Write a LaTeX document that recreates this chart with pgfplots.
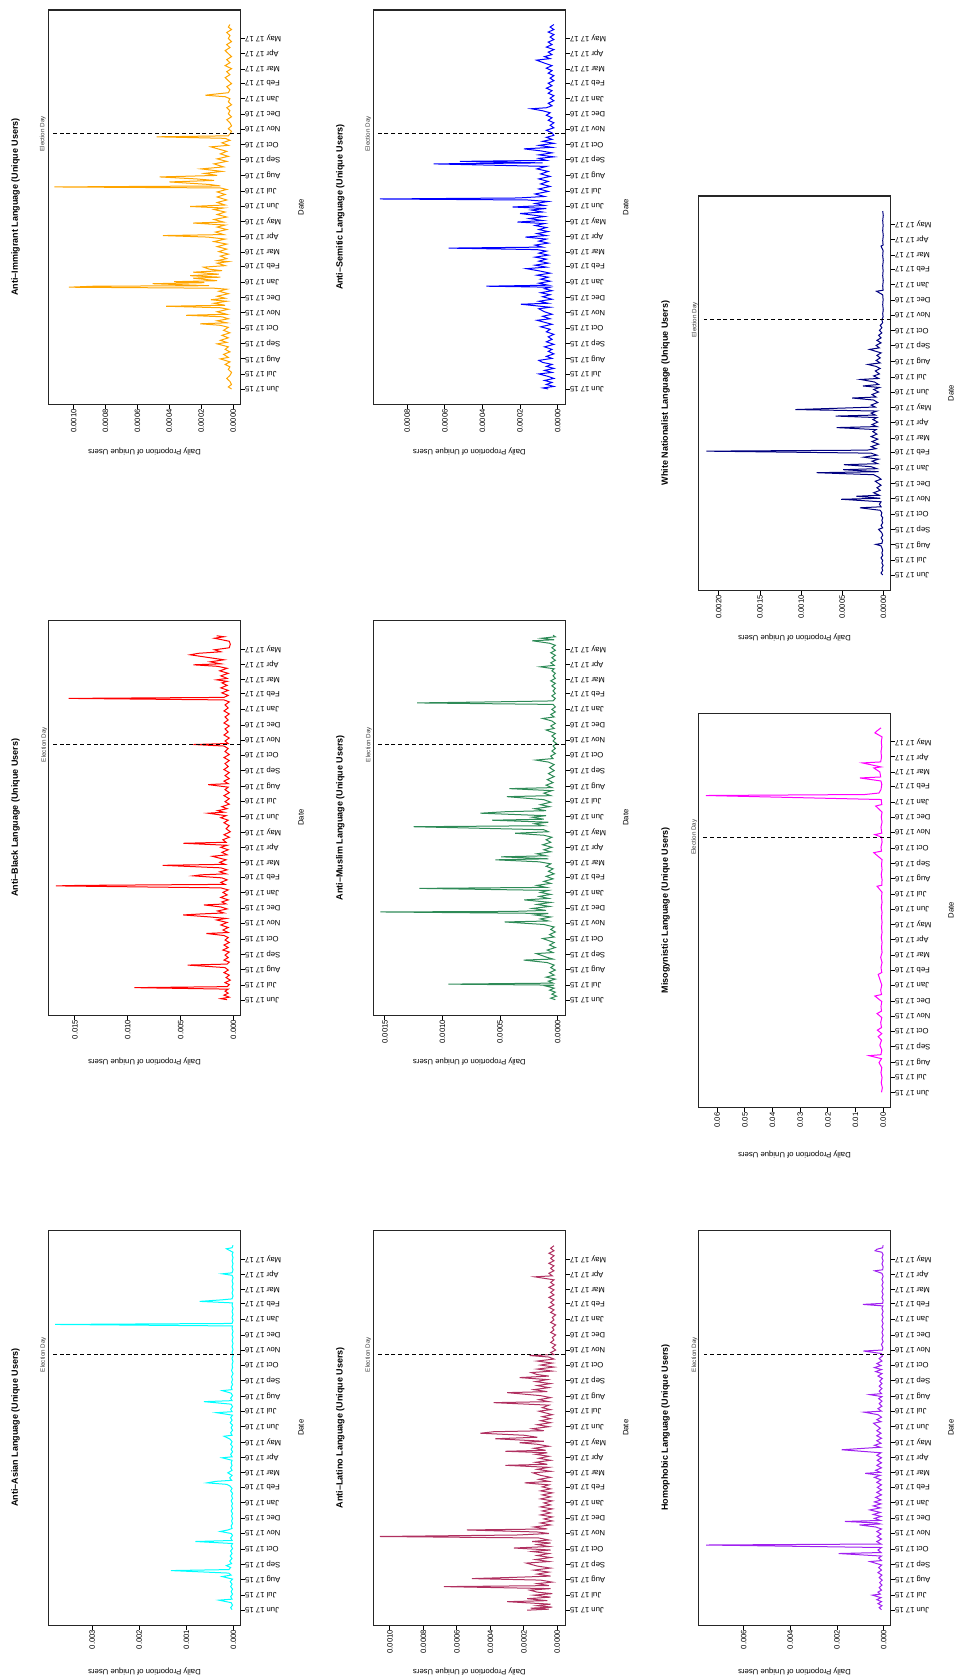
\documentclass[border=0pt]{standalone}
\usepackage{fontspec}
\setmainfont{Liberation Sans}
\usepackage{pgfplots}
\pgfplotsset{compat=1.18}

\newlength\px
\setlength\px{0.5mm}
\newcommand\tickfont{\fontsize{11}{12}\selectfont}
\newcommand\titlefont{\bfseries\fontsize{12.8}{14}\selectfont}
\newcommand\edfont{\fontsize{8.9}{10}\selectfont}

\definecolor{rorange}{HTML}{FFA500}
\definecolor{rred}{HTML}{FF0000}
\definecolor{rcyan}{HTML}{00FFFF}
\definecolor{rmaroon}{HTML}{B03060}
\definecolor{rseagreen}{HTML}{2E8B57}
\definecolor{rblue}{HTML}{0000FF}
\definecolor{rpurple}{HTML}{A020F0}
\definecolor{rmagenta}{HTML}{FF00FF}
\definecolor{rnavy}{HTML}{000080}

\tikzset{eday/.style={black, line width=0.6mm, dash pattern=on 2mm off 1.4mm}}
\pgfplotsset{
  panel/.style={
    scale only axis, width=192\px, height=394.5\px, anchor=north west,
    x dir=reverse, ymin=-30, ymax=757, clip=false,
    axis line style={line width=0.65mm, black!85},
    tick align=outside, major tick length=2.25mm,
    tick style={line width=0.45mm, black},
    xtick pos=left, ytick pos=right, yticklabel pos=right,
    ytick={0,30,61,92,122,153,183,214,245,274,305,335,366,396,427,458,488,519,549,580,611,639,670,700},
    yticklabels={Jun 17 15,Jul 17 15,Aug 17 15,Sep 17 15,Oct 17 15,Nov 17 15,Dec 17 15,Jan 17 16,Feb 17 16,Mar 17 16,Apr 17 16,May 17 16,Jun 17 16,Jul 17 16,Aug 17 16,Sep 17 16,Oct 17 16,Nov 17 16,Dec 17 16,Jan 17 17,Feb 17 17,Mar 17 17,Apr 17 17,May 17 17},
    yticklabel style={rotate=180, anchor=east, inner sep=0pt, font=\tickfont},
    xticklabel style={rotate=90, anchor=east, inner sep=0pt, font=\tickfont},
    scaled x ticks=false,
    every axis plot/.append style={line width=0.5mm, line join=miter},
  },
}

\newcommand\panellabels[3]{%
  \node[rotate=90,font=\titlefont] at ({(#1-33)*\px},{-(#2+197)*\px}) {#3};
  \node[rotate=90,font=\tickfont] at ({(#1+252.5)*\px},{-(#2+197)*\px}) {Date};
  \node[rotate=180,font=\tickfont] at ({(#1+96)*\px},{-(#2+441)*\px}) {Daily Proportion of Unique Users};
}
\newcommand\eday[2]{% axis min, line end
  \draw[eday] (axis cs:#1,510) -- (axis cs:#2,510);
  \node[font=\edfont, text=black!75, inner sep=0pt, xshift=-4.5mm, rotate=90] at (axis cs:#2,510) {Election Day};
}

\begin{document}
\begin{tikzpicture}
\path[use as bounding box] (0,0) rectangle ({955*\px},{-1678*\px});

% ---------------- Anti-Immigrant ----------------
\begin{axis}[panel, at={({48.5*\px},{-10*\px})},
  xmin=-0.0000462, xmax=0.0011576,
  xtick={0,0.0002,0.0004,0.0006,0.0008,0.001},
  xticklabels={0.0000,0.0002,0.0004,0.0006,0.0008,0.0010}]
\addplot[rorange] coordinates {
(0.00001,1) (0.00003,5) (0.00001,10) (0.00002,16) (0.00004,22) (0.00002,28) (0.00001,34) (0.00003,40) (0.00002,45) (0.00005,50) (0.00002,55) (0.00008,61) (0.00003,64) (0.00006,70) (0.00002,75) (0.00005,80) (0.00003,85) (0.0001,91) (0.00004,94) (0.00008,98) (0.00003,103) (0.00007,108) (0.00002,113) (0.00006,118) (0.00003,124) (0.00008,128) (0.000206,131) (0.00004,133) (0.0001,137) (0.00003,141) (0.00007,145) (0.000294,148) (0.00004,150) (0.0001,155) (0.00003,160) (0.00008,163) (0.00042,166) (0.00005,168) (0.00012,172) (0.00004,176) (0.00014,179) (0.00005,182) (0.0001,186) (0.00003,191) (0.00009,196) (0.00004,200) (0.00012,202) (0.00103,204) (0.000874,206) (0.00015,207) (0.000504,211) (0.00018,213) (0.00037,215) (0.0001,217) (0.00025,222) (0.00008,224) (0.00027,227) (0.00009,230) (0.00025,234) (0.00007,237) (0.00015,240) (0.000185,244) (0.00005,247) (0.0001,252) (0.00003,255) (0.0001,257) (0.00004,261) (0.00008,266) (0.00003,270) (0.00009,275) (0.00004,280) (0.0001,285) (0.00004,290) (0.00012,295) (0.00005,300) (0.00016,304) (0.00044,307) (0.00006,309) (0.00011,314) (0.00004,319) (0.0001,324) (0.00005,328) (0.00025,332) (0.00006,334) (0.00012,339) (0.00004,344) (0.0001,349) (0.00005,354) (0.00012,359) (0.00006,362) (0.00027,365) (0.00005,368) (0.0001,373) (0.00004,378) (0.0001,384) (0.00005,389) (0.0001,394) (0.00004,399) (0.00008,402) (0.00112,404) (0.00008,406) (0.00015,409) (0.0004,414) (0.00012,417) (0.00023,420) (0.00046,424) (0.0001,427) (0.00018,431) (0.00007,435) (0.0002,440) (0.00006,444) (0.00012,450) (0.00004,455) (0.0001,460) (0.00003,465) (0.00008,470) (0.00004,475) (0.00014,484) (0.00003,487) (0.00007,492) (0.00002,497) (0.00005,501) (0.00048,504) (0.00003,506) (0.00002,510) (0.00001,515) (0.00003,520) (0.00001,526) (0.00002,532) (0.00004,538) (0.00001,544) (0.00003,550) (0.00002,556) (0.00004,562) (0.00001,568) (0.00003,574) (0.00002,580) (0.00005,584) (0.000174,587) (0.00012,589) (0.00003,592) (0.00002,598) (0.00004,604) (0.00001,610) (0.00003,616) (0.00005,622) (0.00002,628) (0.00004,634) (0.00001,640) (0.00005,646) (0.00002,652) (0.00004,658) (0.00001,664) (0.00003,670) (0.00005,676) (0.00002,682) (0.00004,688) (0.00001,694) (0.00003,700) (0.00002,706) (0.00004,712) (0.00001,718) (0.00003,723) (0.00002,728)
};
\eday{-0.0000462}{0.001137}
\end{axis}
\panellabels{48.5}{10}{Anti–Immigrant Language (Unique Users)}

% ---------------- Anti-Semitic ----------------
\begin{axis}[panel, at={({373.3*\px},{-10*\px})},
  xmin=-0.0000407, xmax=0.0009805,
  xtick={0,0.0002,0.0004,0.0006,0.0008},
  xticklabels={0.0000,0.0002,0.0004,0.0006,0.0008}]
\addplot[rblue] coordinates {
(0.00005,1) (0.000078,3) (0.00002,6) (0.00006,10) (0.00003,14) (0.00007,18) (0.00002,22) (0.00005,26) (0.0001,31) (0.00003,34) (0.00007,38) (0.00002,42) (0.00006,46) (0.00003,50) (0.00008,54) (0.0001,58) (0.00003,62) (0.00006,66) (0.00002,71) (0.00005,76) (0.00003,80) (0.00007,85) (0.00002,90) (0.00006,95) (0.00003,100) (0.00005,105) (0.00002,110) (0.00006,115) (0.00004,120) (0.00009,125) (0.00003,130) (0.00011,138) (0.00004,141) (0.00008,146) (0.00003,150) (0.00007,155) (0.0001,161) (0.00004,164) (0.000195,170) (0.00005,172) (0.0001,176) (0.00003,180) (0.00008,185) (0.00004,189) (0.00009,193) (0.00003,197) (0.00007,201) (0.00004,204) (0.000379,206) (0.00005,208) (0.0001,212) (0.00004,216) (0.00009,220) (0.00005,224) (0.00011,228) (0.00004,232) (0.00009,236) (0.000166,241) (0.00006,244) (0.00012,248) (0.00005,252) (0.0001,256) (0.00006,260) (0.00012,264) (0.00005,268) (0.0001,272) (0.00006,276) (0.00011,279) (0.00058,282) (0.00008,284) (0.00012,288) (0.00005,292) (0.0001,296) (0.00006,300) (0.000172,304) (0.00006,307) (0.00011,311) (0.00005,315) (0.0001,319) (0.00006,323) (0.00012,327) (0.00007,331) (0.000214,334) (0.00008,337) (0.00015,341) (0.00007,345) (0.0002,351) (0.00008,354) (0.00014,358) (0.00006,361) (0.00024,364) (0.00007,367) (0.00012,371) (0.00005,375) (0.00016,378) (0.000945,380) (0.00021,382) (0.00007,385) (0.00012,390) (0.00005,395) (0.0001,400) (0.00004,405) (0.00009,410) (0.00005,415) (0.0001,420) (0.00004,425) (0.00009,430) (0.00005,435) (0.00011,440) (0.00006,445) (0.00066,450) (0.00008,452) (0.00052,455) (0.00006,457) (0.0001,461) (0.00002,464) (0.0001,468) (0.00003,472) (0.00009,476) (0.00018,480) (0.00003,483) (0.0001,487) (0.00002,491) (0.00008,495) (0.00003,499) (0.00006,503) (0.00002,507) (0.00003,512) (0.00006,517) (0.00002,522) (0.00004,527) (0.00002,532) (0.00005,537) (0.00003,542) (0.00006,547) (0.00004,552) (0.00008,556) (0.00014,560) (0.00006,562) (0.00003,566) (0.00005,571) (0.00002,576) (0.00004,581) (0.00002,586) (0.00005,591) (0.00003,596) (0.00006,601) (0.00003,606) (0.00005,611) (0.00002,616) (0.00004,621) (0.00002,626) (0.00005,631) (0.00003,636) (0.00006,641) (0.00003,646) (0.00007,651) (0.000113,657) (0.00004,660) (0.00007,664) (0.00003,668) (0.00005,673) (0.00002,678) (0.00006,683) (0.00003,688) (0.00005,693) (0.00002,698) (0.00004,703) (0.00002,708) (0.00005,713) (0.00002,718) (0.00004,723) (0.00002,728)
};
\eday{-0.0000407}{0.000959}
\end{axis}
\panellabels{373.3}{10}{Anti–Semitic Language (Unique Users)}

% ---------------- White Nationalist ----------------
\begin{axis}[panel, at={({698.5*\px},{-196*\px})},
  xmin=-0.0000848, xmax=0.002246,
  xtick={0,0.0005,0.001,0.0015,0.002},
  xticklabels={0.0000,0.0005,0.0010,0.0015,0.0020}]
\addplot[rnavy] coordinates {
(0.00001,1) (0.00003,5) (0.00001,10) (0.00002,15) (0.000005,20) (0.00002,25) (0.00001,30) (0.00003,35) (0.00001,40) (0.00002,45) (0.00001,50) (0.00002,55) (0.00003,59) (0.000093,62) (0.00002,64) (0.00001,70) (0.00003,75) (0.00001,80) (0.00002,85) (0.00006,92) (0.00001,95) (0.00003,100) (0.00001,105) (0.00002,110) (0.00001,115) (0.00003,120) (0.00002,125) (0.00004,130) (0.000287,135) (0.00003,137) (0.00005,142) (0.00003,147) (0.000513,152) (0.00004,154) (0.00033,158) (0.00005,160) (0.00012,165) (0.00004,170) (0.00008,175) (0.00003,180) (0.0001,188) (0.00003,192) (0.00007,197) (0.00012,201) (0.000812,205) (0.00006,207) (0.00049,211) (0.00008,213) (0.00015,217) (0.00048,221) (0.00007,223) (0.00014,228) (0.00006,232) (0.00024,236) (0.00008,240) (0.00015,244) (0.00215,248) (0.0002,250) (0.00009,253) (0.00015,257) (0.00006,262) (0.00014,267) (0.00007,272) (0.00015,277) (0.00008,282) (0.00013,287) (0.00009,291) (0.00057,295) (0.00008,297) (0.00014,301) (0.00007,306) (0.00013,311) (0.00008,315) (0.00058,318) (0.0001,320) (0.00015,324) (0.00008,328) (0.00107,331) (0.00048,334) (0.0001,336) (0.00015,340) (0.00007,345) (0.00012,350) (0.00038,354) (0.00009,356) (0.00014,361) (0.00006,366) (0.00012,371) (0.00005,375) (0.00025,378) (0.00006,381) (0.00011,386) (0.00028,391) (0.00006,393) (0.00012,398) (0.00005,402) (0.0001,408) (0.00004,413) (0.00009,417) (0.00019,421) (0.00004,424) (0.00009,429) (0.00004,434) (0.00008,439) (0.00003,444) (0.00017,451) (0.00005,454) (0.00009,459) (0.00003,464) (0.00008,469) (0.00003,474) (0.00006,479) (0.00002,484) (0.00005,489) (0.00002,494) (0.00004,499) (0.00001,504) (0.00002,510) (0.000005,516) (0.00001,522) (0.000003,530) (0.00001,540) (0.000005,550) (0.00001,560) (0.000085,567) (0.000005,569) (0.00001,578) (0.000003,588) (0.00001,598) (0.000005,608) (0.00001,618) (0.000003,628) (0.00001,638) (0.000005,648) (0.00003,657) (0.000005,659) (0.00001,668) (0.000003,678) (0.00001,688) (0.000005,698) (0.00001,708) (0.000003,718) (0.00001,727)
};
\eday{-0.0000848}{0.002182}
\end{axis}
\panellabels{698.5}{196}{White Nationalist Language (Unique Users)}

% ---------------- Anti-Black ----------------
\begin{axis}[panel, at={({48.5*\px},{-620.7*\px})},
  xmin=-0.000663, xmax=0.017495,
  xtick={0,0.005,0.01,0.015},
  xticklabels={0.000,0.005,0.010,0.015}]
\addplot[rred] coordinates {
(0.0006,1) (0.0012,3) (0.0004,6) (0.0009,10) (0.0005,14) (0.0008,18) (0.0005,22) (0.00938,25) (0.0006,27) (0.0004,31) (0.0008,35) (0.0003,40) (0.0007,45) (0.0004,50) (0.0009,55) (0.0005,60) (0.0008,65) (0.00433,70) (0.0006,72) (0.0004,76) (0.0009,80) (0.0005,85) (0.0008,90) (0.0004,96) (0.001,100) (0.0005,105) (0.0009,110) (0.0004,115) (0.0008,120) (0.0005,125) (0.0009,129) (0.00256,133) (0.0005,135) (0.001,140) (0.0005,145) (0.0012,150) (0.0006,155) (0.0016,160) (0.0007,163) (0.0022,166) (0.00477,170) (0.0031,172) (0.0009,174) (0.0015,178) (0.0006,182) (0.0012,186) (0.0028,190) (0.0007,192) (0.0011,196) (0.0005,200) (0.0012,205) (0.0006,210) (0.001,215) (0.0005,220) (0.0012,224) (0.0168,228) (0.0145,229) (0.0008,231) (0.0012,235) (0.0006,240) (0.0011,244) (0.0038,248) (0.0031,250) (0.0007,252) (0.0013,256) (0.0006,260) (0.0012,264) (0.0067,269) (0.0008,271) (0.0013,275) (0.0007,280) (0.002,287) (0.0006,290) (0.0011,295) (0.0005,300) (0.0012,305) (0.0006,309) (0.00474,313) (0.0007,315) (0.001,320) (0.0004,325) (0.0009,330) (0.0003,336) (0.0007,342) (0.0004,348) (0.0009,354) (0.0005,359) (0.0012,364) (0.0007,368) (0.0024,373) (0.0009,375) (0.0015,378) (0.0006,382) (0.0011,386) (0.0004,391) (0.0008,396) (0.0004,402) (0.0009,408) (0.0004,414) (0.0008,420) (0.0005,425) (0.0024,430) (0.0005,432) (0.0009,437) (0.0004,442) (0.0008,448) (0.0004,454) (0.0009,460) (0.0005,466) (0.0008,472) (0.0004,478) (0.0009,484) (0.0004,490) (0.0008,496) (0.0005,502) (0.0009,507) (0.0038,510) (0.0005,512) (0.0008,517) (0.0004,523) (0.0009,529) (0.0005,535) (0.0008,541) (0.0004,547) (0.0009,553) (0.0005,559) (0.0008,565) (0.0004,571) (0.0009,577) (0.0005,583) (0.0008,589) (0.0004,595) (0.0009,599) (0.0156,602) (0.0009,604) (0.0005,608) (0.0011,613) (0.0005,618) (0.0012,623) (0.0006,628) (0.0011,633) (0.0006,636) (0.0016,639) (0.0006,642) (0.0012,647) (0.0005,652) (0.0013,657) (0.0006,662) (0.0015,666) (0.0038,669) (0.0012,671) (0.0022,675) (0.0009,679) (0.0025,684) (0.0041,689) (0.0033,692) (0.0012,695) (0.0018,699) (0.0004,703) (0.0003,710) (0.0004,716) (0.0018,722) (0.0009,725) (0.0016,727)
};
\eday{-0.000663}{0.01705}
\end{axis}
\panellabels{48.5}{620.7}{Anti–Black Language (Unique Users)}

% ---------------- Anti-Muslim ----------------
\begin{axis}[panel, at={({373.3*\px},{-620.7*\px})},
  xmin=-0.0000665, xmax=0.001601,
  xtick={0,0.0005,0.001,0.0015},
  xticklabels={0.0000,0.0005,0.0010,0.0015}]
\addplot[rseagreen] coordinates {
(0.00002,1) (0.00006,4) (0.00001,8) (0.00005,12) (0.00002,16) (0.00007,20) (0.00003,24) (0.0001,28) (0.00003,30) (0.000948,32) (0.00004,34) (0.00008,38) (0.00002,42) (0.0001,46) (0.00003,50) (0.00007,55) (0.00002,60) (0.00006,65) (0.00003,70) (0.00009,75) (0.000295,80) (0.00004,82) (0.0001,86) (0.000185,93) (0.00004,95) (0.00009,100) (0.00002,105) (0.00007,110) (0.00003,115) (0.00008,119) (0.00013,123) (0.00003,126) (0.00007,131) (0.00002,136) (0.00006,141) (0.00003,146) (0.00012,151) (0.00046,156) (0.00008,158) (0.00015,162) (0.00006,166) (0.0002,170) (0.00008,173) (0.00154,176) (0.0004,177) (0.0001,179) (0.00022,183) (0.00007,187) (0.00018,191) (0.00006,195) (0.00029,200) (0.00008,203) (0.00016,207) (0.00006,211) (0.00015,215) (0.00008,219) (0.0012,223) (0.0001,225) (0.00018,229) (0.00006,233) (0.00012,237) (0.00004,242) (0.0001,247) (0.00003,252) (0.00008,257) (0.00004,262) (0.0001,267) (0.00006,272) (0.00016,276) (0.00054,280) (0.00008,282) (0.00049,286) (0.0001,288) (0.00018,292) (0.00006,296) (0.00012,300) (0.00005,305) (0.00013,310) (0.00006,315) (0.0001,320) (0.00005,325) (0.00012,329) (0.00037,333) (0.00008,336) (0.00012,340) (0.00125,346) (0.00012,348) (0.0002,352) (0.00008,355) (0.00057,359) (0.00012,361) (0.00022,365) (0.0001,368) (0.00067,373) (0.00045,376) (0.0001,378) (0.0002,382) (0.00007,386) (0.00015,390) (0.00006,395) (0.00012,400) (0.00044,406) (0.00006,408) (0.00012,413) (0.00005,418) (0.00042,422) (0.00005,424) (0.0001,429) (0.00004,434) (0.00009,440) (0.00003,446) (0.00008,452) (0.00003,458) (0.00007,464) (0.00003,470) (0.00008,475) (0.00019,479) (0.00004,482) (0.00006,487) (0.00002,492) (0.00005,497) (0.00002,502) (0.00004,507) (0.00001,512) (0.00004,517) (0.00002,522) (0.00005,527) (0.00002,532) (0.0001,539) (0.00003,542) (0.00006,547) (0.00002,552) (0.00005,557) (0.00013,562) (0.00003,565) (0.00006,570) (0.00002,575) (0.00005,580) (0.00002,585) (0.00004,590) (0.00122,593) (0.00058,595) (0.00004,597) (0.00002,602) (0.00005,607) (0.00002,612) (0.00004,617) (0.00002,622) (0.00005,627) (0.00002,632) (0.00006,637) (0.00002,642) (0.00004,647) (0.00002,652) (0.00005,657) (0.00003,661) (0.00015,665) (0.00003,668) (0.00006,673) (0.00002,678) (0.00005,683) (0.00002,688) (0.00006,693) (0.00002,698) (0.00005,703) (0.00002,708) (0.00007,712) (0.00022,717) (0.00003,719) (0.00014,722) (0.00002,725) (0.00004,728)
};
\eday{-0.0000665}{0.001563}
\end{axis}
\panellabels{373.3}{620.7}{Anti–Muslim Language (Unique Users)}

% ---------------- Misogynistic ----------------
\begin{axis}[panel, at={({698.5*\px},{-713.3*\px})},
  xmin=-0.00265, xmax=0.06675,
  xtick={0,0.01,0.02,0.03,0.04,0.05,0.06},
  xticklabels={0.00,0.01,0.02,0.03,0.04,0.05,0.06}]
\addplot[rmagenta] coordinates {
(0.0006,1) (0.0003,10) (0.0007,20) (0.0004,30) (0.0008,40) (0.0005,50) (0.0015,60) (0.0006,68) (0.0051,74) (0.0008,76) (0.0005,85) (0.0012,95) (0.0006,105) (0.0018,112) (0.0005,118) (0.0021,125) (0.0006,130) (0.0009,140) (0.0005,150) (0.0022,158) (0.0006,163) (0.0008,172) (0.0005,182) (0.003,193) (0.0006,196) (0.0009,205) (0.0005,215) (0.0018,236) (0.0005,240) (0.0008,250) (0.0004,260) (0.0009,270) (0.0004,280) (0.0006,290) (0.0004,300) (0.0007,310) (0.0004,320) (0.0006,330) (0.0004,340) (0.0006,350) (0.0004,360) (0.0007,370) (0.0004,380) (0.0006,390) (0.0004,400) (0.0022,412) (0.0005,414) (0.0004,425) (0.0007,435) (0.0004,445) (0.0006,455) (0.0004,465) (0.0034,479) (0.0006,482) (0.0008,490) (0.0004,500) (0.0006,510) (0.003,515) (0.0005,518) (0.0008,530) (0.0004,540) (0.0007,550) (0.0004,560) (0.0027,572) (0.0005,575) (0.0007,585) (0.0641,593) (0.0066,595) (0.0015,598) (0.0008,605) (0.0005,615) (0.0008,622) (0.0084,628) (0.0009,630) (0.0012,640) (0.0034,648) (0.0008,650) (0.0075,658) (0.0009,660) (0.0006,670) (0.0008,680) (0.0005,690) (0.0007,700) (0.0004,710) (0.003,718) (0.0022,722) (0.0008,728)
};
\eday{-0.00265}{0.06506}
\end{axis}
\panellabels{698.5}{713.3}{Misogynistic Language (Unique Users)}

% ---------------- Anti-Asian ----------------
\begin{axis}[panel, at={({48.5*\px},{-1230.7*\px})},
  xmin=-0.000149, xmax=0.003929,
  xtick={0,0.001,0.002,0.003},
  xticklabels={0.000,0.001,0.002,0.003}]
\addplot[rcyan] coordinates {
(0.00003,1) (0.00006,5) (0.00002,10) (0.00005,15) (0.00031,20) (0.00003,22) (0.00006,27) (0.00002,32) (0.00005,37) (0.00002,42) (0.00006,47) (0.00003,52) (0.00007,57) (0.00002,62) (0.00024,67) (0.00005,70) (0.0001,74) (0.00133,79) (0.0001,81) (0.00006,85) (0.00015,89) (0.00004,93) (0.00008,98) (0.00003,103) (0.00007,108) (0.00003,113) (0.00006,118) (0.00002,123) (0.00005,128) (0.00002,133) (0.00081,137) (0.00003,139) (0.00006,144) (0.00002,149) (0.00005,153) (0.00028,157) (0.00012,160) (0.00003,163) (0.00005,168) (0.00002,173) (0.00004,178) (0.00002,183) (0.00004,188) (0.00002,193) (0.00005,198) (0.00002,203) (0.00004,208) (0.00002,213) (0.00005,218) (0.00002,223) (0.00004,228) (0.00002,233) (0.00006,238) (0.00003,243) (0.00008,248) (0.00014,251) (0.00056,254) (0.00038,257) (0.00004,259) (0.00008,264) (0.00003,269) (0.00012,274) (0.00003,279) (0.00006,284) (0.00003,289) (0.00005,294) (0.00003,299) (0.00024,304) (0.00003,306) (0.00006,311) (0.00002,316) (0.00005,321) (0.00002,326) (0.00006,331) (0.00003,336) (0.00007,341) (0.0002,347) (0.00003,349) (0.00006,354) (0.00002,359) (0.00005,364) (0.00002,369) (0.00007,374) (0.00003,379) (0.00006,384) (0.00002,389) (0.00036,394) (0.00003,396) (0.00006,401) (0.00002,406) (0.00005,411) (0.00063,416) (0.00003,418) (0.00006,423) (0.00002,428) (0.00005,433) (0.00024,438) (0.00003,440) (0.00005,445) (0.00002,450) (0.00004,455) (0.00002,460) (0.00004,466) (0.00001,472) (0.00004,478) (0.00002,484) (0.00003,490) (0.00001,496) (0.00003,502) (0.00001,508) (0.00003,514) (0.00001,520) (0.00003,526) (0.00001,532) (0.00003,538) (0.00001,544) (0.00003,550) (0.00001,556) (0.00003,562) (0.00002,567) (0.00379,570) (0.00003,572) (0.00001,578) (0.00003,584) (0.00001,590) (0.00003,596) (0.00001,602) (0.00003,608) (0.00002,613) (0.00072,616) (0.00026,619) (0.00003,621) (0.00001,627) (0.00003,633) (0.00001,639) (0.00003,645) (0.00001,651) (0.00003,657) (0.00001,663) (0.00003,668) (0.00024,671) (0.00003,673) (0.00001,679) (0.00003,685) (0.00001,691) (0.00003,697) (0.00001,703) (0.00003,709) (0.00001,714) (0.00015,721) (0.00003,723) (0.00001,728)
};
\eday{-0.000149}{0.003847}
\end{axis}
\panellabels{48.5}{1230.7}{Anti–Asian Language (Unique Users)}

% ---------------- Anti-Latino ----------------
\begin{axis}[panel, at={({373.3*\px},{-1230.7*\px})},
  xmin=-0.0000477, xmax=0.0010994,
  xtick={0,0.0002,0.0004,0.0006,0.0008,0.001},
  xticklabels={0.0000,0.0002,0.0004,0.0006,0.0008,0.0010}]
\addplot[rmaroon] coordinates {
(0.00018,0) (0.00005,2) (0.00016,4) (0.00003,6) (0.00012,9) (0.00004,12) (0.0003,17) (0.00006,19) (0.00018,23) (0.00004,26) (0.00014,30) (0.00003,33) (0.00012,36) (0.000165,40) (0.00004,43) (0.000678,47) (0.00005,49) (0.00012,53) (0.00003,56) (0.0001,60) (0.00051,63) (0.00021,66) (0.00004,68) (0.00012,72) (0.00005,76) (0.00014,80) (0.00004,84) (0.00012,88) (0.000185,94) (0.00005,97) (0.00013,101) (0.00004,105) (0.00012,109) (0.00005,113) (0.00015,117) (0.00004,120) (0.00026,124) (0.00005,127) (0.00012,131) (0.00004,134) (0.00015,137) (0.00005,140) (0.00011,144) (0.00106,147) (0.000235,150) (0.00005,153) (0.00012,156) (0.00054,160) (0.00006,162) (0.00014,166) (0.00004,170) (0.0001,174) (0.00003,178) (0.00008,182) (0.00003,186) (0.0001,190) (0.00004,194) (0.00009,198) (0.00003,202) (0.0001,206) (0.00004,210) (0.00008,214) (0.00003,218) (0.0001,222) (0.00004,226) (0.00009,230) (0.00003,234) (0.0001,238) (0.00004,242) (0.00009,246) (0.00005,250) (0.000195,254) (0.00005,257) (0.00011,261) (0.00004,265) (0.0001,269) (0.000145,274) (0.00004,277) (0.00012,281) (0.00005,285) (0.00031,289) (0.00006,291) (0.00013,295) (0.00004,299) (0.00011,303) (0.00005,307) (0.00013,311) (0.00006,314) (0.00031,317) (0.00007,319) (0.00014,323) (0.00005,327) (0.00012,331) (0.000225,334) (0.00008,337) (0.00037,342) (0.00012,345) (0.0002,349) (0.00046,353) (0.00038,356) (0.00008,358) (0.00015,362) (0.00005,366) (0.00012,370) (0.00004,374) (0.0001,378) (0.00004,382) (0.00009,386) (0.00003,390) (0.00011,397) (0.00004,400) (0.00009,404) (0.00005,409) (0.00038,414) (0.00005,416) (0.00011,420) (0.00004,424) (0.0001,428) (0.0003,434) (0.00006,436) (0.00014,440) (0.00005,444) (0.00012,448) (0.00004,452) (0.00013,456) (0.00006,460) (0.000225,464) (0.00005,467) (0.00012,470) (0.000155,474) (0.00003,477) (0.00012,481) (0.00002,485) (0.0001,489) (0.00003,493) (0.00012,497) (0.00002,501) (0.00005,505) (0.000165,508) (0.00002,510) (0.00004,514) (0.00001,519) (0.00003,524) (0.00001,529) (0.00004,534) (0.00002,539) (0.00003,544) (0.00001,549) (0.00004,554) (0.00002,559) (0.00003,564) (0.00001,569) (0.00004,574) (0.00002,579) (0.00003,584) (0.00001,589) (0.00004,594) (0.00002,599) (0.00005,604) (0.00002,609) (0.00004,614) (0.00002,619) (0.00005,624) (0.00002,629) (0.00004,634) (0.00002,639) (0.00005,644) (0.00002,649) (0.00004,654) (0.00002,659) (0.000135,665) (0.00003,667) (0.00005,672) (0.00002,677) (0.00004,682) (0.00002,687) (0.00005,692) (0.00002,697) (0.00004,702) (0.00002,707) (0.00005,712) (0.00002,717) (0.00004,722) (0.00002,727)
};
\eday{-0.0000477}{0.001076}
\end{axis}
\panellabels{373.3}{1230.7}{Anti–Latino Language (Unique Users)}

% ---------------- Homophobic ----------------
\begin{axis}[panel, at={({698.5*\px},{-1230.7*\px})},
  xmin=-0.000286, xmax=0.007929,
  xtick={0,0.002,0.004,0.006},
  xticklabels={0.000,0.002,0.004,0.006}]
\addplot[rpurple] coordinates {
(0.0001,1) (0.0002,5) (0.00008,9) (0.00025,13) (0.0001,17) (0.0003,21) (0.00012,25) (0.00049,30) (0.00015,32) (0.00025,36) (0.0001,40) (0.0002,45) (0.00008,50) (0.00018,55) (0.00007,60) (0.0002,65) (0.00008,70) (0.00025,75) (0.0001,80) (0.00022,85) (0.00009,90) (0.00059,97) (0.0001,99) (0.00022,104) (0.0001,108) (0.00193,113) (0.00012,115) (0.00025,120) (0.0001,125) (0.0076,130) (0.00012,132) (0.0003,137) (0.0001,142) (0.00028,147) (0.00012,152) (0.0003,157) (0.0001,162) (0.00035,166) (0.00104,170) (0.00015,172) (0.0003,174) (0.00167,177) (0.00015,179) (0.0004,183) (0.00012,187) (0.00045,191) (0.00015,195) (0.0006,200) (0.00015,204) (0.00045,208) (0.00012,212) (0.0004,216) (0.00012,220) (0.00035,225) (0.0001,230) (0.0003,235) (0.0001,240) (0.00028,245) (0.0001,250) (0.0003,255) (0.00012,260) (0.0004,265) (0.00015,269) (0.0008,273) (0.00015,275) (0.00035,279) (0.0001,284) (0.0003,289) (0.0001,294) (0.00028,299) (0.0001,304) (0.0003,309) (0.00012,314) (0.0018,320) (0.00084,323) (0.00015,325) (0.0004,329) (0.00012,333) (0.0003,338) (0.0001,343) (0.0003,348) (0.00012,353) (0.0003,358) (0.00015,363) (0.0003,368) (0.00044,373) (0.00012,376) (0.0003,380) (0.0001,385) (0.00025,390) (0.00084,395) (0.0001,397) (0.00025,402) (0.00008,407) (0.0002,412) (0.00008,417) (0.00022,422) (0.00008,426) (0.0006,430) (0.0001,432) (0.0002,437) (0.00008,442) (0.0002,447) (0.00008,452) (0.00018,457) (0.00006,462) (0.00025,467) (0.00008,472) (0.00035,476) (0.0001,480) (0.0004,484) (0.00012,488) (0.0003,492) (0.00008,497) (0.0002,502) (0.00006,507) (0.0001,512) (0.00087,517) (0.00006,519) (0.00004,524) (0.0001,530) (0.00003,536) (0.00008,542) (0.00003,548) (0.00008,554) (0.00003,560) (0.00008,566) (0.00003,572) (0.00008,578) (0.00003,584) (0.00008,590) (0.00003,596) (0.00008,602) (0.00004,607) (0.0009,610) (0.00005,612) (0.00003,618) (0.00008,624) (0.00003,630) (0.00008,636) (0.00003,642) (0.00008,648) (0.00003,654) (0.00008,660) (0.00003,666) (0.00008,672) (0.00039,677) (0.00005,679) (0.00003,685) (0.00008,691) (0.00003,697) (0.00008,703) (0.00003,709) (0.00008,714) (0.00037,717) (0.0003,720) (0.00005,723) (0.00003,728)
};
\eday{-0.000286}{0.007714}
\end{axis}
\panellabels{698.5}{1230.7}{Homophobic Language (Unique Users)}

\end{tikzpicture}
\end{document}
